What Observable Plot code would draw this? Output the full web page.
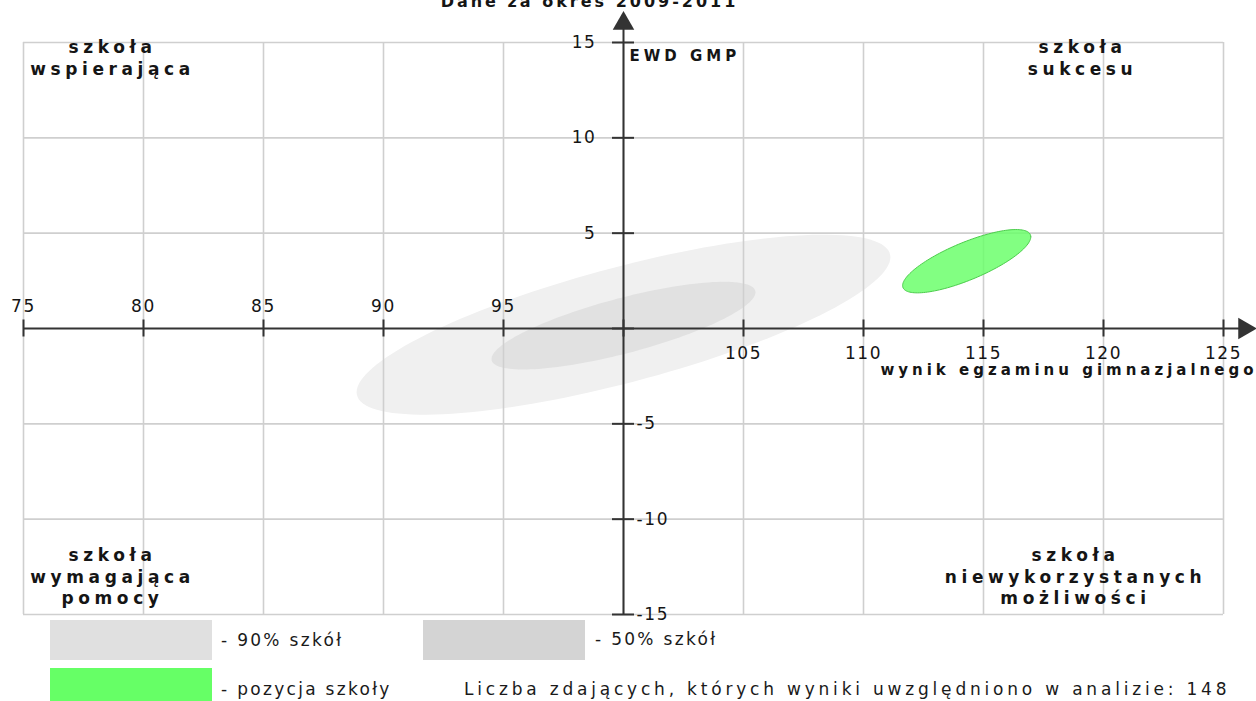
<!DOCTYPE html>
<html><head><meta charset="utf-8">
<script src="https://cdn.jsdelivr.net/npm/d3@7"></script>
<script src="https://cdn.jsdelivr.net/npm/@observablehq/plot@0.6"></script>
<style>
body{margin:0;background:#fff;}
#wrap{position:relative;width:1256px;height:701px;overflow:hidden;font-family:"DejaVu Sans";background:#fff;}
#wrap svg{position:absolute;left:0;top:0;}
.sw{position:absolute;}
.lt{position:absolute;font-size:17px;letter-spacing:2.3px;color:#1a1a1a;line-height:20px;white-space:nowrap;}
.cap{letter-spacing:3.8px;}
</style></head><body><div id="wrap"></div>
<script>
// ---- data ----
const title = "Dane za okres 2009-2011";
const xTicks = [75, 80, 85, 90, 95, 100, 105, 110, 115, 120, 125];
const xLabelsAbove = [75, 80, 85, 90, 95];
const xLabelsBelow = [105, 110, 115, 120, 125];
const yTicks = [-15, -10, -5, 0, 5, 10, 15];
const yLabelsLeft = [15, 10, 5];
const yLabelsRight = [-5, -10, -15];
const xTitle = "wynik egzaminu gimnazjalnego";
const yTitle = "EWD GMP";
const quadTopLeft = "szkoła\nwspierająca";
const quadTopRight = "szkoła\nsukcesu";
const quadBottomLeft = "szkoła\nwymagająca\npomocy";
const quadBottomRight = "szkoła\nniewykorzystanych\nmożliwości";

// ellipses: 90% of schools, 50% of schools, position of the school
const bands = ["90% szkół", "50% szkół", "pozycja szkoły"];
const centerX = [100.0, 100.0, 114.3];
const centerY = [0.2, 0.15, 3.53];
const halfWidth = [11.12, 5.5, 2.67];
const halfHeight = [4.72, 2.3, 1.66];
const correlation = [0.75, 0.76, 0.77];

const legendLabels = ["- 90% szkół", "- 50% szkół", "- pozycja szkoły"];
const legendColors = ["#e0e0e0", "#d4d4d4", "#66ff66"];
const studentCount = 148;
const countLabel = "Liczba zdających, których wyniki uwzględniono w analizie: ";

// ---- ellipse outlines built from the parameters above ----
const ellipsePoints = [];
bands.forEach((b, i) => {
  const phi = Math.acos(correlation[i]);
  for (let k = 0; k <= 144; k++) {
    const t = 2 * Math.PI * k / 144;
    ellipsePoints.push({band: b,
      x: centerX[i] + halfWidth[i] * Math.cos(t),
      y: centerY[i] + halfHeight[i] * Math.cos(t - phi)});
  }
});
const ell = (i) => ellipsePoints.filter(d => d.band === bands[i]);

const ink = "#151515";
const axisColor = "#333";

const chart = Plot.plot({
  width: 1256, height: 625,
  marginLeft: 23, marginRight: 33, marginTop: 42, marginBottom: 11,
  x: {domain: [75, 125], axis: null},
  y: {domain: [-15, 15], axis: null},
  style: {fontFamily: "DejaVu Sans", background: "transparent", overflow: "visible", color: ink},
  marks: [
    Plot.line(ell(0), {x: "x", y: "y", fill: "#f0f0f0", stroke: "none"}),
    Plot.line(ell(1), {x: "x", y: "y", fill: "#e1e1e1", stroke: "none"}),
    Plot.ruleX(xTicks, {x: d => d, y1: 15, y2: -15, stroke: "#cfcfcf", strokeWidth: 1.6}),
    Plot.ruleY(yTicks.filter(d => d !== 0), {y: d => d, x1: 75, x2: 125, stroke: "#cfcfcf", strokeWidth: 1.6}),
    Plot.line(ell(2), {x: "x", y: "y", fill: "#66ff66", fillOpacity: 0.82, stroke: "#4ccc4c", strokeWidth: 1}),
    // main axes
    Plot.ruleY([0], {x1: 75, x2: 125, insetRight: -22, stroke: axisColor, strokeWidth: 2}),
    Plot.ruleX([100], {y1: 15, y2: -15, insetTop: -16, stroke: axisColor, strokeWidth: 2}),
    // tick marks
    Plot.ruleX(xTicks, {x: d => d, y1: 0, y2: 0, insetTop: -8.5, insetBottom: -8.5, stroke: axisColor, strokeWidth: 2}),
    Plot.ruleY(yTicks, {y: d => d, x1: 100, x2: 100, insetLeft: -11, insetRight: -11, stroke: axisColor, strokeWidth: 2}),
    // arrow heads
    Plot.dot([yTitle], {x: 100, y: 15, dy: -19, symbol: "triangle", r: 8, fill: axisColor, stroke: "none"}),
    Plot.dot([xTitle], {x: 125, y: 0, dx: 21, symbol: "triangle", r: 8, rotate: 90, fill: axisColor, stroke: "none"}),
    // tick labels
    Plot.text(xLabelsAbove, {x: d => d, y: 0, dy: -22, text: d => String(d), textAnchor: "middle", fontSize: 17, fill: ink}),
    Plot.text(xLabelsBelow, {x: d => d, y: 0, dy: 25, text: d => String(d), textAnchor: "middle", fontSize: 17, fill: ink}),
    Plot.text(yLabelsLeft, {x: 100, y: d => d, dx: -27, text: d => String(d), textAnchor: "end", fontSize: 17, fill: ink}),
    Plot.text(yLabelsRight, {x: 100, y: d => d, dx: 13, text: d => String(d), textAnchor: "start", fontSize: 17, fill: ink}),
    // axis titles
    Plot.text([yTitle], {x: 100, y: 15, dx: 6, dy: 14, text: d => d, textAnchor: "start", fontSize: 15, fontWeight: "bold", fill: ink}),
    Plot.text([xTitle], {x: 125, y: 0, dx: 34, dy: 42, text: d => d, textAnchor: "end", fontSize: 15, fontWeight: "bold", fill: ink}),
    // quadrant labels
    Plot.text([quadTopLeft], {frameAnchor: "top-left", dx: 89, dy: -4, text: d => d, textAnchor: "middle", lineAnchor: "top", lineHeight: 1.24, fontSize: 17, fontWeight: "bold", fill: ink}),
    Plot.text([quadTopRight], {frameAnchor: "top-right", dx: -141, dy: -4, text: d => d, textAnchor: "middle", lineAnchor: "top", lineHeight: 1.24, fontSize: 17, fontWeight: "bold", fill: ink}),
    Plot.text([quadBottomLeft], {frameAnchor: "bottom-left", dx: 89, dy: -68, text: d => d, textAnchor: "middle", lineAnchor: "top", lineHeight: 1.24, fontSize: 17, fontWeight: "bold", fill: ink}),
    Plot.text([quadBottomRight], {frameAnchor: "bottom-right", dx: -148, dy: -68, text: d => d, textAnchor: "middle", lineAnchor: "top", lineHeight: 1.24, fontSize: 17, fontWeight: "bold", fill: ink}),
    // title (mostly cut off at the top, as in the original)
    Plot.text([title], {frameAnchor: "top", dx: -34, dy: -47, text: d => d, textAnchor: "middle", fontSize: 16, fontWeight: "bold", fill: ink})
  ]
});

const wrap = document.getElementById("wrap");
wrap.appendChild(chart);

// letter spacing by text style (computed once the chart is in the page)
d3.select(chart).selectAll("text").each(function () {
  const cs = getComputedStyle(this);
  const fs = Math.round(parseFloat(cs.fontSize));
  const bold = cs.fontWeight === "bold" || +cs.fontWeight >= 600;
  let ls = 0;
  if (bold && fs === 17) ls = 4.6;
  else if (bold && fs === 15) ls = 4.0;
  else if (bold && fs === 16) ls = 3.0;
  else if (!bold && fs === 17) ls = 1.6;
  this.setAttribute("letter-spacing", ls + "px");
  this.style.letterSpacing = ls + "px";
});

// legend (below the plot area)
const swatchPos = [[50, 620], [423, 620], [50, 668]];
const labelPos = [[221, 630], [595, 629], [221, 679]];
legendLabels.forEach((lab, i) => {
  const sw = document.createElement("div");
  sw.className = "sw";
  sw.style.left = swatchPos[i][0] + "px";
  sw.style.top = swatchPos[i][1] + "px";
  sw.style.width = "162px";
  sw.style.height = "40px";
  sw.style.background = legendColors[i];
  wrap.appendChild(sw);
  const t = document.createElement("div");
  t.className = "lt";
  t.style.left = labelPos[i][0] + "px";
  t.style.top = labelPos[i][1] + "px";
  t.textContent = lab;
  wrap.appendChild(t);
});
const cap = document.createElement("div");
cap.className = "lt cap";
cap.style.left = "464px";
cap.style.top = "679px";
cap.textContent = countLabel + studentCount;
wrap.appendChild(cap);
</script></body></html>
